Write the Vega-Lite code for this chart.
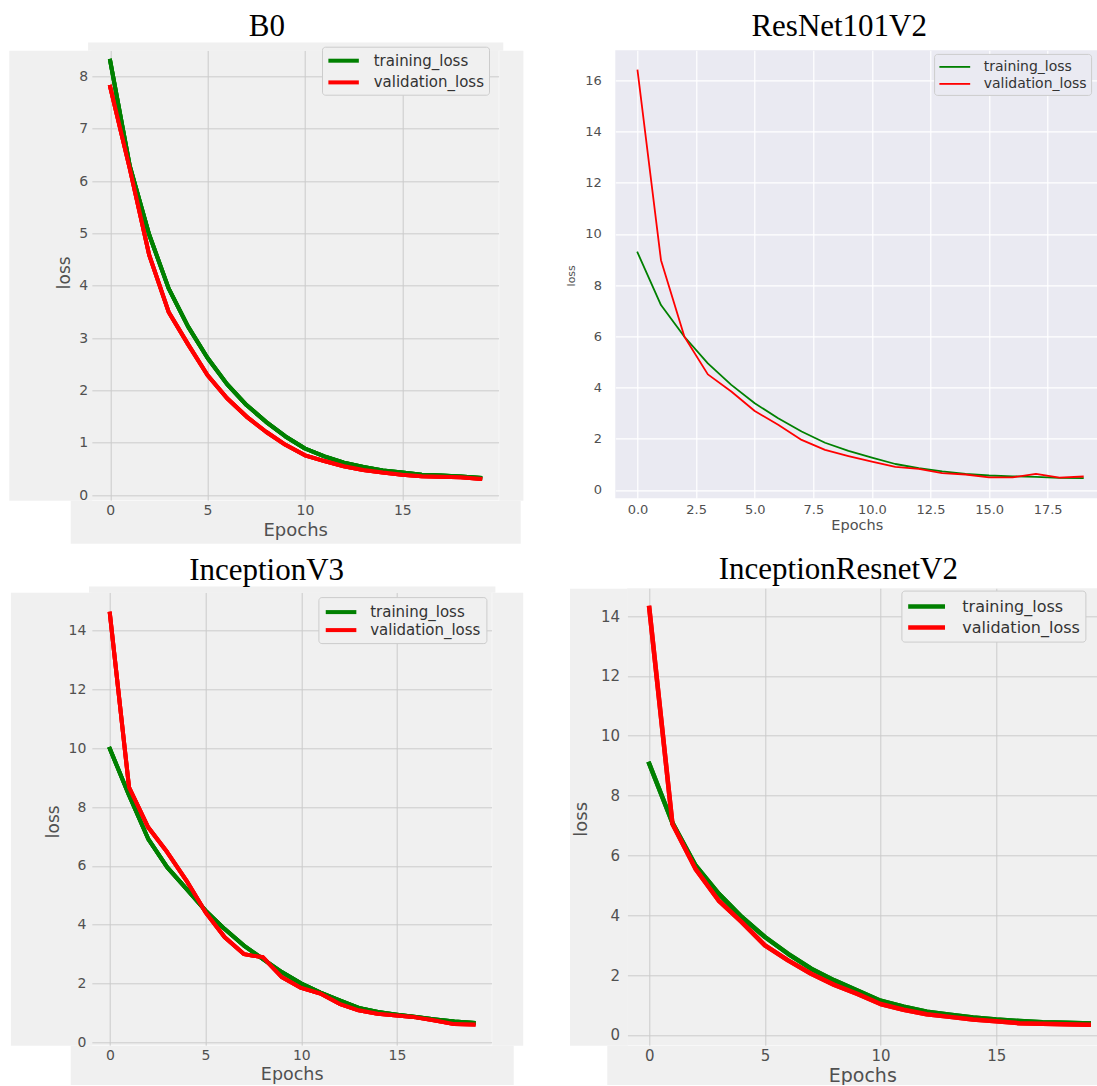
{
"$schema": "https://vega.github.io/schema/vega-lite/v6.json",
"padding": {"left": 31.7, "top": 10.3, "right": 0, "bottom": 0},
"background": "white",
"columns": 2,
"align": "none",
"bounds": "full",
"spacing": {"row": 5, "column": 53.6},
"resolve": {"scale": {"color": "independent"}},
"config": {
  "view": {"stroke": null},
  "axis": {"labelFont": "DejaVu Sans", "titleFont": "DejaVu Sans", "titleFontWeight": "normal", "ticks": false, "domain": false, "labelFlush": false, "labelOverlap": false, "labelBound": false, "labelColor": "#505050", "titleColor": "#505050", "titleBaseline": "alphabetic", "maxExtent": 300},
  "axisX": {"labelBaseline": "middle"},
  "legend": {"labelFont": "DejaVu Sans", "labelColor": "#333333", "orient": "none", "symbolType": "M-1,0H3", "cornerRadius": 3, "strokeColor": "#cccccc"},
  "title": {"font": "Liberation Serif", "fontSize": 31, "fontWeight": "normal", "color": "#000000", "frame": "group", "baseline": "alphabetic", "anchor": "middle"}
},
"datasets": {
"b0": [
{"epoch":0,"series":"training_loss","loss":8.3},{"epoch":1,"series":"training_loss","loss":6.3},{"epoch":2,"series":"training_loss","loss":4.98},{"epoch":3,"series":"training_loss","loss":3.95},{"epoch":4,"series":"training_loss","loss":3.22},{"epoch":5,"series":"training_loss","loss":2.62},{"epoch":6,"series":"training_loss","loss":2.12},{"epoch":7,"series":"training_loss","loss":1.72},{"epoch":8,"series":"training_loss","loss":1.4},{"epoch":9,"series":"training_loss","loss":1.12},{"epoch":10,"series":"training_loss","loss":0.89},{"epoch":11,"series":"training_loss","loss":0.74},{"epoch":12,"series":"training_loss","loss":0.62},{"epoch":13,"series":"training_loss","loss":0.535},{"epoch":14,"series":"training_loss","loss":0.47},{"epoch":15,"series":"training_loss","loss":0.43},{"epoch":16,"series":"training_loss","loss":0.39},{"epoch":17,"series":"training_loss","loss":0.375},{"epoch":18,"series":"training_loss","loss":0.355},{"epoch":19,"series":"training_loss","loss":0.33},
{"epoch":0,"series":"validation_loss","loss":7.8},{"epoch":1,"series":"validation_loss","loss":6.25},{"epoch":2,"series":"validation_loss","loss":4.59},{"epoch":3,"series":"validation_loss","loss":3.5},{"epoch":4,"series":"validation_loss","loss":2.88},{"epoch":5,"series":"validation_loss","loss":2.29},{"epoch":6,"series":"validation_loss","loss":1.85},{"epoch":7,"series":"validation_loss","loss":1.5},{"epoch":8,"series":"validation_loss","loss":1.21},{"epoch":9,"series":"validation_loss","loss":0.96},{"epoch":10,"series":"validation_loss","loss":0.76},{"epoch":11,"series":"validation_loss","loss":0.65},{"epoch":12,"series":"validation_loss","loss":0.55},{"epoch":13,"series":"validation_loss","loss":0.48},{"epoch":14,"series":"validation_loss","loss":0.43},{"epoch":15,"series":"validation_loss","loss":0.39},{"epoch":16,"series":"validation_loss","loss":0.36},{"epoch":17,"series":"validation_loss","loss":0.35},{"epoch":18,"series":"validation_loss","loss":0.34},{"epoch":19,"series":"validation_loss","loss":0.31}
],
"resnet": [
{"epoch":0,"series":"training_loss","loss":9.27},{"epoch":1,"series":"training_loss","loss":7.22},{"epoch":2,"series":"training_loss","loss":5.98},{"epoch":3,"series":"training_loss","loss":4.94},{"epoch":4,"series":"training_loss","loss":4.1},{"epoch":5,"series":"training_loss","loss":3.38},{"epoch":6,"series":"training_loss","loss":2.8},{"epoch":7,"series":"training_loss","loss":2.28},{"epoch":8,"series":"training_loss","loss":1.84},{"epoch":9,"series":"training_loss","loss":1.52},{"epoch":10,"series":"training_loss","loss":1.26},{"epoch":11,"series":"training_loss","loss":1.01},{"epoch":12,"series":"training_loss","loss":0.85},{"epoch":13,"series":"training_loss","loss":0.72},{"epoch":14,"series":"training_loss","loss":0.62},{"epoch":15,"series":"training_loss","loss":0.56},{"epoch":16,"series":"training_loss","loss":0.53},{"epoch":17,"series":"training_loss","loss":0.51},{"epoch":18,"series":"training_loss","loss":0.47},{"epoch":19,"series":"training_loss","loss":0.46},
{"epoch":0,"series":"validation_loss","loss":16.38},{"epoch":1,"series":"validation_loss","loss":8.97},{"epoch":2,"series":"validation_loss","loss":5.98},{"epoch":3,"series":"validation_loss","loss":4.51},{"epoch":4,"series":"validation_loss","loss":3.84},{"epoch":5,"series":"validation_loss","loss":3.08},{"epoch":6,"series":"validation_loss","loss":2.54},{"epoch":7,"series":"validation_loss","loss":1.95},{"epoch":8,"series":"validation_loss","loss":1.56},{"epoch":9,"series":"validation_loss","loss":1.32},{"epoch":10,"series":"validation_loss","loss":1.1},{"epoch":11,"series":"validation_loss","loss":0.9},{"epoch":12,"series":"validation_loss","loss":0.82},{"epoch":13,"series":"validation_loss","loss":0.65},{"epoch":14,"series":"validation_loss","loss":0.6},{"epoch":15,"series":"validation_loss","loss":0.49},{"epoch":16,"series":"validation_loss","loss":0.49},{"epoch":17,"series":"validation_loss","loss":0.62},{"epoch":18,"series":"validation_loss","loss":0.48},{"epoch":19,"series":"validation_loss","loss":0.52}
],
"incv3": [
{"epoch":0,"series":"training_loss","loss":9.98},{"epoch":1,"series":"training_loss","loss":8.4},{"epoch":2,"series":"training_loss","loss":6.92},{"epoch":3,"series":"training_loss","loss":5.95},{"epoch":4,"series":"training_loss","loss":5.22},{"epoch":5,"series":"training_loss","loss":4.48},{"epoch":6,"series":"training_loss","loss":3.85},{"epoch":7,"series":"training_loss","loss":3.29},{"epoch":8,"series":"training_loss","loss":2.83},{"epoch":9,"series":"training_loss","loss":2.38},{"epoch":10,"series":"training_loss","loss":2.0},{"epoch":11,"series":"training_loss","loss":1.69},{"epoch":12,"series":"training_loss","loss":1.43},{"epoch":13,"series":"training_loss","loss":1.17},{"epoch":14,"series":"training_loss","loss":1.03},{"epoch":15,"series":"training_loss","loss":0.94},{"epoch":16,"series":"training_loss","loss":0.86},{"epoch":17,"series":"training_loss","loss":0.78},{"epoch":18,"series":"training_loss","loss":0.71},{"epoch":19,"series":"training_loss","loss":0.66},
{"epoch":0,"series":"validation_loss","loss":14.57},{"epoch":1,"series":"validation_loss","loss":8.67},{"epoch":2,"series":"validation_loss","loss":7.31},{"epoch":3,"series":"validation_loss","loss":6.46},{"epoch":4,"series":"validation_loss","loss":5.5},{"epoch":5,"series":"validation_loss","loss":4.42},{"epoch":6,"series":"validation_loss","loss":3.57},{"epoch":7,"series":"validation_loss","loss":3.0},{"epoch":8,"series":"validation_loss","loss":2.89},{"epoch":9,"series":"validation_loss","loss":2.21},{"epoch":10,"series":"validation_loss","loss":1.85},{"epoch":11,"series":"validation_loss","loss":1.66},{"epoch":12,"series":"validation_loss","loss":1.31},{"epoch":13,"series":"validation_loss","loss":1.09},{"epoch":14,"series":"validation_loss","loss":0.97},{"epoch":15,"series":"validation_loss","loss":0.91},{"epoch":16,"series":"validation_loss","loss":0.85},{"epoch":17,"series":"validation_loss","loss":0.74},{"epoch":18,"series":"validation_loss","loss":0.62},{"epoch":19,"series":"validation_loss","loss":0.61}
],
"incres": [
{"epoch":0,"series":"training_loss","loss":9.06},{"epoch":1,"series":"training_loss","loss":7.09},{"epoch":2,"series":"training_loss","loss":5.66},{"epoch":3,"series":"training_loss","loss":4.72},{"epoch":4,"series":"training_loss","loss":3.94},{"epoch":5,"series":"training_loss","loss":3.27},{"epoch":6,"series":"training_loss","loss":2.71},{"epoch":7,"series":"training_loss","loss":2.21},{"epoch":8,"series":"training_loss","loss":1.82},{"epoch":9,"series":"training_loss","loss":1.48},{"epoch":10,"series":"training_loss","loss":1.14},{"epoch":11,"series":"training_loss","loss":0.94},{"epoch":12,"series":"training_loss","loss":0.77},{"epoch":13,"series":"training_loss","loss":0.67},{"epoch":14,"series":"training_loss","loss":0.58},{"epoch":15,"series":"training_loss","loss":0.51},{"epoch":16,"series":"training_loss","loss":0.46},{"epoch":17,"series":"training_loss","loss":0.42},{"epoch":18,"series":"training_loss","loss":0.4},{"epoch":19,"series":"training_loss","loss":0.38},
{"epoch":0,"series":"validation_loss","loss":14.27},{"epoch":1,"series":"validation_loss","loss":7.06},{"epoch":2,"series":"validation_loss","loss":5.55},{"epoch":3,"series":"validation_loss","loss":4.49},{"epoch":4,"series":"validation_loss","loss":3.77},{"epoch":5,"series":"validation_loss","loss":2.99},{"epoch":6,"series":"validation_loss","loss":2.49},{"epoch":7,"series":"validation_loss","loss":2.04},{"epoch":8,"series":"validation_loss","loss":1.67},{"epoch":9,"series":"validation_loss","loss":1.37},{"epoch":10,"series":"validation_loss","loss":1.03},{"epoch":11,"series":"validation_loss","loss":0.84},{"epoch":12,"series":"validation_loss","loss":0.69},{"epoch":13,"series":"validation_loss","loss":0.6},{"epoch":14,"series":"validation_loss","loss":0.51},{"epoch":15,"series":"validation_loss","loss":0.45},{"epoch":16,"series":"validation_loss","loss":0.39},{"epoch":17,"series":"validation_loss","loss":0.37},{"epoch":18,"series":"validation_loss","loss":0.35},{"epoch":19,"series":"validation_loss","loss":0.34}
]
},
"concat": [
{
  "width": 407, "height": 450,
  "data": {"name": "b0"},
  "title": {"text": "B0", "dx": -28.4, "offset": 3.1},
  "view": {"fill": "#f0f0f0", "stroke": null},
  "encoding": {
    "color": {"field": "series", "type": "nominal", "scale": {"domain": ["training_loss", "validation_loss"], "range": ["#008000", "#ff0000"]},
      "legend": {"title": null, "legendX": 230.3, "legendY": -3.6, "symbolStrokeWidth": 4, "symbolSize": 232, "labelFontSize": 15, "labelOffset": 27.75, "padding": 4, "rowPadding": 3.7, "fillColor": "#f0f0f0"}}
  },
  "layer": [
    {
      "mark": {"type": "line", "strokeWidth": 4, "strokeJoin": "round", "strokeCap": "square"},
      "encoding": {
        "x": {"field": "epoch", "type": "quantitative", "scale": {"domain": [-0.95, 19.95], "nice": false, "zero": false},
          "axis": {"orient": "bottom", "values": [0, 5, 10, 15], "title": "Epochs", "titleFontSize": 18, "titleY": 35.5, "labelFontSize": 14, "labelPadding": 10.5, "grid": false, "zindex": 1}},
        "y": {"field": "loss", "type": "quantitative", "scale": {"domain": [-0.1, 8.5], "nice": false, "zero": false},
          "axis": {"orient": "left", "values": [0, 1, 2, 3, 4, 5, 6, 7, 8], "title": "loss", "titleFontSize": 17, "titleX": -22.2, "titleY": 222, "labelFontSize": 14, "labelPadding": 4, "grid": false, "zindex": 1}}
      }
    },
    {
      "mark": {"type": "line", "strokeWidth": 4, "strokeJoin": "round", "strokeCap": "square"},
      "encoding": {
        "x": {"field": "epoch", "type": "quantitative",
          "axis": {"orient": "bottom", "values": [0, 5, 10, 15], "title": null, "labels": false, "grid": true, "gridColor": "#cbcbcb", "gridWidth": 1, "minExtent": 21, "offset": 21.5, "domain": true, "domainColor": "#f0f0f0", "domainWidth": 43, "domainCap": "square", "zindex": 0}},
        "y": {"field": "loss", "type": "quantitative",
          "axis": {"orient": "left", "values": [0, 1, 2, 3, 4, 5, 6, 7, 8], "title": null, "labels": false, "grid": true, "gridColor": "#cbcbcb", "gridWidth": 1, "minExtent": 18.55, "offset": 41.45, "domain": true, "domainColor": "#f0f0f0", "domainWidth": 82.9, "domainCap": "butt", "zindex": 0}}
      }
    },
    {
      "mark": {"type": "line", "strokeWidth": 4, "strokeJoin": "round", "strokeCap": "square"},
      "encoding": {
        "x": {"field": "epoch", "type": "quantitative",
          "axis": {"orient": "top", "values": [0, 5, 10, 15], "title": null, "labels": false, "grid": false, "offset": 4.1, "domain": true, "domainColor": "#f0f0f0", "domainWidth": 8.2, "domainCap": "square", "zindex": 0}},
        "y": {"field": "loss", "type": "quantitative",
          "axis": {"orient": "right", "values": [0, 1, 2, 3, 4, 5, 6, 7, 8], "title": null, "labels": false, "grid": false, "offset": 12.1, "domain": true, "domainColor": "#f0f0f0", "domainWidth": 24.2, "domainCap": "butt", "zindex": 0}}
      }
    }
  ],
  "resolve": {"axis": {"x": "independent", "y": "independent"}}
},
{
  "width": 483, "height": 448,
  "data": {"name": "resnet"},
  "title": {"text": "ResNet101V2", "dx": -17.6, "offset": 7.2},
  "view": {"fill": "#eaeaf2", "stroke": null},
  "mark": {"type": "line", "strokeWidth": 1.8, "strokeJoin": "round", "strokeCap": "square"},
  "encoding": {
    "x": {"field": "epoch", "type": "quantitative", "scale": {"domain": [-0.95, 19.66], "nice": false, "zero": false},
      "axis": {"values": [0, 2.5, 5, 7.5, 10, 12.5, 15, 17.5], "format": ".1f", "title": "Epochs", "titleFontSize": 14.5, "titleY": 31.6, "labelFontSize": 13, "labelPadding": 11.4, "grid": true, "gridColor": "#ffffff", "gridWidth": 1.2, "minExtent": 50.7}},
    "y": {"field": "loss", "type": "quantitative", "scale": {"domain": [-0.33, 17.17], "nice": false, "zero": false},
      "axis": {"values": [0, 2, 4, 6, 8, 10, 12, 14, 16], "title": "loss", "titleFontSize": 11, "titleX": -40.3, "titleY": 225, "labelFontSize": 13, "labelPadding": 13.9, "grid": true, "gridColor": "#ffffff", "gridWidth": 1.2, "minExtent": 50}},
    "color": {"field": "series", "type": "nominal", "scale": {"domain": ["training_loss", "validation_loss"], "range": ["#008000", "#ff0000"]},
      "legend": {"title": null, "legendX": 318.8, "legendY": 3.6, "symbolStrokeWidth": 1.8, "symbolSize": 237, "labelFontSize": 14, "labelOffset": 27.6, "padding": 4, "rowPadding": 1, "fillColor": "#eaeaf2"}}
  }
},
{
  "width": 400, "height": 453,
  "data": {"name": "incv3"},
  "title": {"text": "InceptionV3", "dx": -25.1, "offset": 2.5},
  "view": {"fill": "#f0f0f0", "stroke": null},
  "encoding": {
    "color": {"field": "series", "type": "nominal", "scale": {"domain": ["training_loss", "validation_loss"], "range": ["#008000", "#ff0000"]},
      "legend": {"title": null, "legendX": 226.7, "legendY": 4.8, "symbolStrokeWidth": 4, "symbolSize": 234, "labelFontSize": 15, "labelOffset": 26.8, "padding": 5, "rowPadding": 0, "fillColor": "#f0f0f0"}}
  },
  "layer": [
    {
      "mark": {"type": "line", "strokeWidth": 4, "strokeJoin": "round", "strokeCap": "square"},
      "encoding": {
        "x": {"field": "epoch", "type": "quantitative", "scale": {"domain": [-0.95, 19.95], "nice": false, "zero": false},
          "axis": {"orient": "bottom", "values": [0, 5, 10, 15], "title": "Epochs", "titleFontSize": 17.5, "titleY": 34.4, "labelFontSize": 14, "labelPadding": 10, "grid": false, "zindex": 1}},
        "y": {"field": "loss", "type": "quantitative", "scale": {"domain": [-0.1, 15.3], "nice": false, "zero": false},
          "axis": {"orient": "left", "values": [0, 2, 4, 6, 8, 10, 12, 14], "title": "loss", "titleFontSize": 17, "titleX": -32.7, "titleY": 229, "labelFontSize": 14, "labelPadding": 5.8, "grid": false, "zindex": 1}}
      }
    },
    {
      "mark": {"type": "line", "strokeWidth": 4, "strokeJoin": "round", "strokeCap": "square"},
      "encoding": {
        "x": {"field": "epoch", "type": "quantitative",
          "axis": {"orient": "bottom", "values": [0, 5, 10, 15], "title": null, "labels": false, "grid": true, "gridColor": "#cbcbcb", "gridWidth": 1, "offset": 21.5, "domain": true, "domainColor": "#f0f0f0", "domainWidth": 43, "domainCap": "square", "zindex": 0}},
        "y": {"field": "loss", "type": "quantitative",
          "axis": {"orient": "left", "values": [0, 2, 4, 6, 8, 10, 12, 14], "title": null, "labels": false, "grid": true, "gridColor": "#cbcbcb", "gridWidth": 1, "minExtent": 19.35, "offset": 40.65, "domain": true, "domainColor": "#f0f0f0", "domainWidth": 81.3, "domainCap": "butt", "zindex": 0}}
      }
    },
    {
      "mark": {"type": "line", "strokeWidth": 4, "strokeJoin": "round", "strokeCap": "square"},
      "encoding": {
        "x": {"field": "epoch", "type": "quantitative",
          "axis": {"orient": "top", "values": [0, 5, 10, 15], "title": null, "labels": false, "grid": false, "offset": 3.2, "domain": true, "domainColor": "#f0f0f0", "domainWidth": 6.4, "domainCap": "square", "zindex": 0}},
        "y": {"field": "loss", "type": "quantitative",
          "axis": {"orient": "right", "values": [0, 2, 4, 6, 8, 10, 12, 14], "title": null, "labels": false, "grid": false, "offset": 15.5, "domain": true, "domainColor": "#f0f0f0", "domainWidth": 31, "domainCap": "butt", "zindex": 0}}
      }
    }
  ],
  "resolve": {"axis": {"x": "independent", "y": "independent"}}
},
{
  "width": 470, "height": 457,
  "data": {"name": "incres"},
  "title": {"text": "InceptionResnetV2", "dx": -23.9, "offset": 2},
  "view": {"fill": "#f0f0f0", "stroke": null},
  "encoding": {
    "color": {"field": "series", "type": "nominal", "scale": {"domain": ["training_loss", "validation_loss"], "range": ["#008000", "#ff0000"]},
      "legend": {"title": null, "legendX": 274.1, "legendY": 2.3, "symbolStrokeWidth": 4.5, "symbolSize": 339, "labelFontSize": 16, "labelOffset": 33.4, "padding": 4.5, "rowPadding": -2.4, "fillColor": "#f0f0f0"}}
  },
  "layer": [
    {
      "mark": {"type": "line", "strokeWidth": 4.5, "strokeJoin": "round", "strokeCap": "square"},
      "encoding": {
        "x": {"field": "epoch", "type": "quantitative", "scale": {"domain": [-0.95, 19.37], "nice": false, "zero": false},
          "axis": {"orient": "bottom", "values": [0, 5, 10, 15], "title": "Epochs", "titleFontSize": 19, "titleY": 35.9, "labelFontSize": 15, "labelPadding": 10.2, "grid": false, "zindex": 1}},
        "y": {"field": "loss", "type": "quantitative", "scale": {"domain": [-0.35, 14.93], "nice": false, "zero": false},
          "axis": {"orient": "left", "values": [0, 2, 4, 6, 8, 10, 12, 14], "title": "loss", "titleFontSize": 18, "titleX": -41.2, "titleY": 230.5, "labelFontSize": 15, "labelPadding": 7.7, "grid": false, "zindex": 1}}
      }
    },
    {
      "mark": {"type": "line", "strokeWidth": 4.5, "strokeJoin": "round", "strokeCap": "square"},
      "encoding": {
        "x": {"field": "epoch", "type": "quantitative",
          "axis": {"orient": "bottom", "values": [0, 5, 10, 15], "title": null, "labels": false, "grid": true, "gridColor": "#cbcbcb", "gridWidth": 1, "offset": 20.5, "domain": true, "domainColor": "#f0f0f0", "domainWidth": 41, "domainCap": "square", "zindex": 0}},
        "y": {"field": "loss", "type": "quantitative",
          "axis": {"orient": "left", "values": [0, 2, 4, 6, 8, 10, 12, 14], "title": null, "labels": false, "grid": true, "gridColor": "#cbcbcb", "gridWidth": 1, "minExtent": 32.2, "offset": 28.9, "domain": true, "domainColor": "#f0f0f0", "domainWidth": 57.8, "domainCap": "butt", "zindex": 0}}
      }
    }
  ],
  "resolve": {"axis": {"x": "independent", "y": "independent"}}
}
]
}
